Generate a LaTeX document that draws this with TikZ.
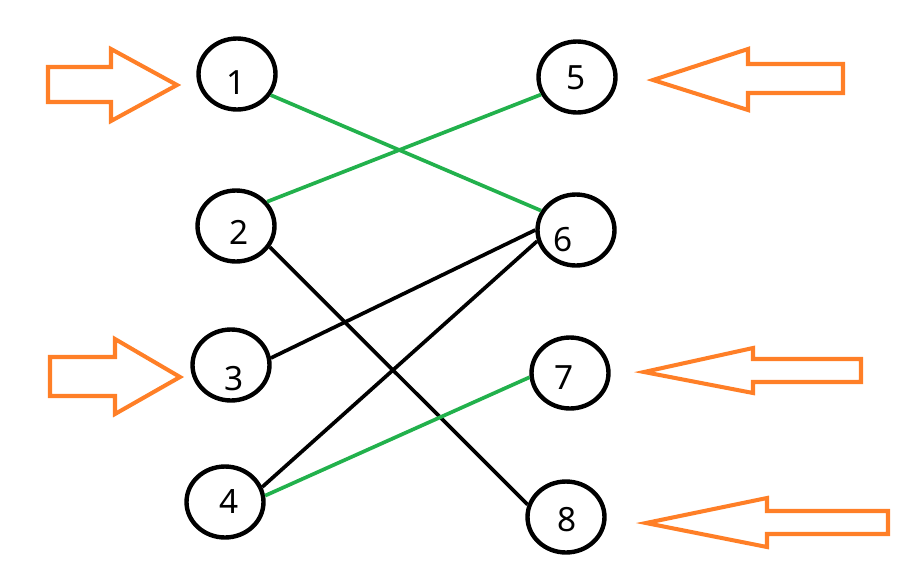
\documentclass[tikz,border=0pt]{standalone}
\usepackage{fontspec}
\setmainfont{Noto Sans}
\usetikzlibrary{shapes.geometric}
\definecolor{paintorange}{HTML}{FF7F27}
\definecolor{paintgreen}{HTML}{22B14C}
\tikzset{
  vtx/.style={ellipse, draw=black, line width=2.5pt, minimum width=1.54cm, minimum height=1.42cm, inner sep=0pt},
  lbl/.style={font=\fontsize{19}{19}\selectfont, inner sep=0pt},
  gedge/.style={draw=paintgreen, line width=2.1pt},
  bedge/.style={draw=black, line width=2.1pt},
  blockarrow/.style={draw=paintorange, line width=2.3pt, line join=miter}
}
\begin{document}
\begin{tikzpicture}[x=0.02cm, y=-0.02cm]
\useasboundingbox (0,0) rectangle (903,579);
% vertices
\node[vtx, label={[lbl, xshift=-0.02cm, yshift=-0.17cm]center:1}] (c1) at (237,74) {};
\node[vtx, label={[lbl, xshift=0.06cm, yshift=-0.12cm]center:2}] (c2) at (236,226) {};
\node[vtx, label={[lbl, xshift=0.06cm, yshift=-0.28cm]center:3}] (c3) at (231,365) {};
\node[vtx, label={[lbl, xshift=0.08cm, yshift=0cm]center:4}] (c4) at (225,502) {};
\node[vtx, label={[lbl, xshift=-0.02cm, yshift=-0.02cm]center:5}] (c5) at (577,77) {};
\node[vtx, label={[lbl, xshift=-0.26cm, yshift=-0.2cm]center:6}] (c6) at (576,230) {};
\node[vtx, label={[lbl, xshift=-0.12cm, yshift=-0.1cm]center:7}] (c7) at (570,373) {};
\node[vtx, label={[lbl, xshift=0.02cm, yshift=-0.06cm]center:8}] (c8) at (566,517) {};
% edges
\draw[gedge] (c1.-32) -- (c6.151);
\draw[gedge] (c5.-154) -- (c2.38);
\draw[bedge] (c2.-32) -- (c8.162);
\draw[bedge] (c3.10) -- (c6.180);
\draw[bedge] (c4.22) -- (c6.196);
\draw[gedge] (c4.9) -- (c7.186);
% orange block arrows
\draw[blockarrow] (48,67) -- (111,67) -- (111,49) -- (177,85) -- (111,121) -- (111,102) -- (48,102) -- cycle;
\draw[blockarrow] (50,357) -- (115,357) -- (115,339) -- (180,377) -- (115,414) -- (115,396) -- (50,396) -- cycle;
\draw[blockarrow] (653,80) -- (748,49) -- (748,64) -- (843,64) -- (843,93) -- (748,93) -- (748,110) -- cycle;
\draw[blockarrow] (644,372) -- (753,348) -- (753,359) -- (861,359) -- (861,382) -- (753,382) -- (753,393) -- cycle;
\draw[blockarrow] (646,523) -- (767,498) -- (767,511) -- (888,511) -- (888,534) -- (767,534) -- (767,547) -- cycle;
\end{tikzpicture}
\end{document}
